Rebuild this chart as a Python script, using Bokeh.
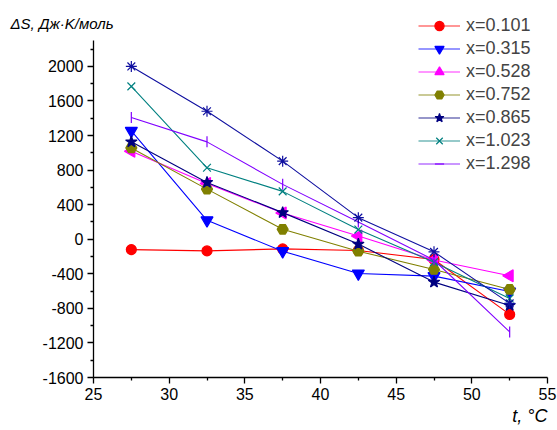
import math
from bokeh.plotting import figure
from bokeh.models import (Legend, LegendItem, Title, FixedTicker, Range1d, ColumnDataSource)
from bokeh.embed import file_html
from bokeh.resources import INLINE

# ---- data ----
temps = [27.5, 32.5, 37.5, 42.5, 47.5, 52.5]
s_0101 = [-120, -135, -112, -130, -235, -870]
s_0315 = [1254, 219, -138, -396, -427, -605]
s_0528 = [1019, 646, 304, 38, -240, -423]
s_0752 = [1057, 580, 115, -138, -350, -581]
s_0865 = [1127, 657, 308, -56, -496, -766]
s_1023 = [1769, 827, 554, 112, -265, -685]
s_1298 = [1408, 1127, 635, 200, -240, -1073]
s_extra = [2000, 1481, 904, 250, -146, -742]

labels = ["x=0.101", "x=0.315", "x=0.528", "x=0.752", "x=0.865", "x=1.023", "x=1.298"]
y_ticks = [-1600, -1200, -800, -400, 0, 400, 800, 1200, 1600, 2000]
x_ticks = [25, 30, 35, 40, 45, 50, 55]

series = [
    (s_0101, "#FF0000", "circle", 0.0, 10, labels[0]),
    (s_0315, "#0000FF", "inverted_triangle", 0.0, 12, labels[1]),
    (s_0528, "#FF00FF", "triangle", math.pi / 2, 12, labels[2]),
    (s_0752, "#808000", "hex", 0.0, 11, labels[3]),
    (s_0865, "#000080", "star", 0.0, 12, labels[4]),
    (s_1023, "#008080", "x", 0.0, 11, labels[5]),
    (s_1298, "#8000FF", "dash", math.pi / 2, 11, labels[6]),
    (s_extra, "#1010A0", "asterisk", 0.0, 11, None),
]

# frame geometry (canvas px)
FL, FR, FT, FB = 93, 547, 14, 377
AXIS_TOP_PX = 40
X0, X1, Y0, YAX = 25, 55, -1600, 2300
per_px = (YAX - Y0) / (FB - AXIS_TOP_PX)
Y1 = Y0 + (FB - FT) * per_px

p = figure(width=557, height=430, output_backend="svg", toolbar_location=None,
           x_range=Range1d(X0, X1), y_range=Range1d(Y0, Y1),
           min_border_left=FL, min_border_right=557 - FR, min_border_top=FT,
           min_border_bottom=430 - FB)
p.outline_line_color = None
p.grid.visible = False
p.background_fill_color = "white"
p.border_fill_color = "white"

FONT = "Liberation Sans"
for ax in (p.xaxis[0], p.yaxis[0]):
    ax.axis_line_color = "black"
    ax.axis_line_width = 1.3
    ax.major_tick_line_color = "black"
    ax.minor_tick_line_color = "black"
    ax.major_tick_line_width = 1.3
    ax.minor_tick_line_width = 1.3
    ax.major_tick_out = 6
    ax.major_tick_in = 0
    ax.minor_tick_out = 3
    ax.minor_tick_in = 0
    ax.major_label_text_font = FONT
    ax.major_label_text_font_size = "16px"
    ax.major_label_text_color = "black"

p.xaxis[0].ticker = FixedTicker(ticks=x_ticks, minor_ticks=[t + 2.5 for t in x_ticks])
p.yaxis[0].ticker = FixedTicker(ticks=y_ticks, minor_ticks=[v + 200 for v in y_ticks])
p.yaxis[0].bounds = (Y0, YAX)
p.yaxis[0].major_label_overrides = {v: str(v) for v in y_ticks}
p.xaxis[0].major_label_overrides = {v: str(v) for v in x_ticks}
p.xaxis[0].major_label_standoff = 4
p.yaxis[0].major_label_standoff = 4

items = []
for ys, color, marker, ang, size, lab in series:
    src = ColumnDataSource(dict(x=temps, y=ys))
    p.line("x", "y", source=src, line_color=color, line_width=1.1)
    p.scatter("x", "y", source=src, marker=marker, angle=ang, size=size,
              fill_color=color, line_color=color, line_width=1.2)
    if lab is not None:
        dsrc = ColumnDataSource(dict(x=[float("nan")], y=[float("nan")]))
        r1 = p.line("x", "y", source=dsrc, line_color=color, line_alpha=0.55, line_width=1.5)
        r2 = p.scatter("x", "y", source=dsrc, marker=marker, size=size,
                       fill_color=color, line_color=color, line_width=1.2)
        items.append(LegendItem(label=lab, renderers=[r1, r2]))

# legend: location = bottom-left corner relative to frame bottom-left
LEG_TOP = 13.5
ROW = 23
leg_h = ROW * len(items)
legend = Legend(items=items, location=(418 - FL, FB - (LEG_TOP + leg_h)), orientation="vertical",
                label_text_font=FONT, label_text_font_size="18px",
                glyph_width=42, glyph_height=ROW, label_height=ROW, spacing=0,
                label_standoff=6, padding=0, margin=0,
                border_line_alpha=0, background_fill_alpha=0)
p.add_layout(legend)

# y title at top-left (title panel, pushed down next to the axis top)
p.title.text = " \nΔS, Дж·K/моль"
p.title.align = "left"
p.title.offset = 10 - FL
p.title.standoff = -35
p.title.vertical_align = "bottom"
p.title.text_font = FONT
p.title.text_font_size = "15px"
p.title.text_font_style = "italic"
p.title.text_color = "black"

# x title at bottom-right
xt = Title(text="t, °C", align="right", text_font=FONT, text_font_size="18px",
           text_font_style="italic", text_color="black", standoff=3)
p.add_layout(xt, "below")

open("out.html", "w").write(file_html(p, INLINE))
